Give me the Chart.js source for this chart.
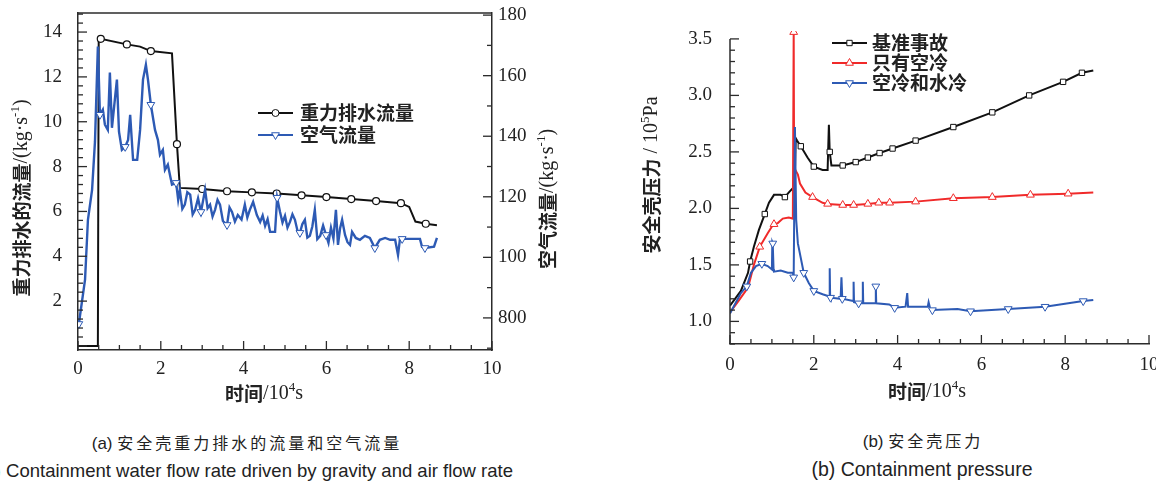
<!DOCTYPE html>
<html>
<head>
<meta charset="utf-8">
<script src="https://cdn.jsdelivr.net/npm/chart.js@4.4.1/dist/chart.umd.min.js"></script>
<style>
  html, body { margin: 0; padding: 0; background: #fff; }
  #wrap { position: relative; width: 1156px; height: 485px; overflow: hidden; background: #fff; }
  canvas { position: absolute; top: 0; }
  #ca { left: 0; }
  #cb { left: 600px; }
  .cap { position: absolute; white-space: nowrap; color: #222; line-height: 20px; }
  .zh { font: 16px 'Noto Sans CJK SC', sans-serif; letter-spacing: 3px; width: 600px; text-align: center; }
  .zh span { font-family: 'Liberation Sans', sans-serif; letter-spacing: 0; font-size: 17px; }
  .en { font-family: 'Liberation Sans', Arial, sans-serif; }
</style>
</head>
<body>
<div id="wrap">
  <canvas id="ca" width="580" height="410"></canvas>
  <canvas id="cb" width="556" height="410"></canvas>
  <div class="cap zh" style="left:-53px; top:430px;"><span>(a) </span>安全壳重力排水的流量和空气流量</div>
  <div class="cap en" style="left:-287px; top:461px; width:800px; text-align:right; font-size:18.5px;">(a) Containment water flow rate driven by gravity and air flow rate</div>
  <div class="cap zh" style="left:623px; top:428px;"><span>(b) </span>安全壳压力</div>
  <div class="cap en" style="left:622px; top:459px; width:600px; text-align:center; font-size:19.5px;">(b) Containment pressure</div>
</div>
<script>
// (a) 重力排水流量 (left axis, kg/s) and 空气流量 (right axis)
const aBlackT = [0, 0.48, 0.50, 0.55, 1.18, 1.50, 1.76, 2.27, 2.39, 2.46, 3.0, 3.6, 4.2, 4.8, 5.4, 6.0, 6.6, 7.2, 7.8, 8.0, 8.15, 8.4, 8.67];
const aBlackV = [0, 0, 13.6, 13.7, 13.45, 13.35, 13.15, 13.05, 9.0, 7.05, 7.0, 6.9, 6.85, 6.8, 6.72, 6.64, 6.55, 6.46, 6.37, 6.2, 5.55, 5.45, 5.38];
const aBlackMarks = [0.55, 1.18, 1.76, 2.39, 3.0, 3.6, 4.2, 4.8, 5.4, 6.0, 6.6, 7.2, 7.8, 8.4];

const aBlueT = [0.02, 0.17, 0.24, 0.34, 0.41, 0.48, 0.53, 0.60, 0.65, 0.72, 0.77, 0.82, 0.89, 0.94, 0.99, 1.06, 1.14, 1.21, 1.26, 1.33,
  1.43, 1.50, 1.57, 1.64, 1.69, 1.76, 1.86, 1.93, 1.98, 2.05, 2.10, 2.17, 2.27, 2.37, 2.42, 2.46, 2.52, 2.58, 2.64, 2.71,
  2.77, 2.83, 2.90, 2.97, 3.07, 3.13, 3.19, 3.25, 3.31, 3.37, 3.43, 3.50, 3.60, 3.66, 3.72, 3.79, 3.86, 3.95, 4.03, 4.09,
  4.15, 4.23, 4.32, 4.40, 4.46, 4.52, 4.58, 4.64, 4.76, 4.81, 4.88, 4.94, 5.0, 5.06, 5.12, 5.18, 5.24, 5.30, 5.36, 5.42,
  5.48, 5.54, 5.60, 5.66, 5.72, 5.78, 5.85, 5.92, 5.99, 6.05, 6.11, 6.17, 6.23, 6.28, 6.33, 6.38, 6.45, 6.51, 6.57, 6.62,
  6.71, 6.81, 6.93, 7.05, 7.17, 7.29, 7.42, 7.54, 7.66, 7.73, 7.78, 7.83, 8.26, 8.31, 8.38, 8.60, 8.67];
const aBlueV = [78.0, 92.6, 112.4, 122.3, 138.2, 169.6, 147.1, 148.8, 143.8, 142.1, 161.0, 142.8, 152.1, 158.7, 141.5, 135.5, 136.5, 138.8, 147.1, 132.2,
  132.2, 142.1, 158.7, 163.6, 158.7, 150.4, 142.1, 138.8, 133.9, 135.5, 128.9, 130.6, 124.0, 124.6, 119.0, 122.3, 116.0, 117.4, 121.5, 120.7,
  114.2, 115.7, 119.5, 115.0, 122.3, 116.2, 117.4, 113.5, 115.7, 119.0, 117.4, 112.0, 110.7, 116.5, 115.0, 111.8, 114.0, 112.5, 117.4, 113.2,
  115.7, 118.3, 114.0, 111.7, 113.8, 110.4, 112.6, 108.4, 108.4, 119.7, 115.0, 111.5, 113.7, 109.8, 111.7, 114.2, 112.4, 108.9, 108.1, 111.0,
  112.4, 106.5, 107.1, 110.2, 115.7, 106.0, 107.1, 110.5, 107.4, 104.8, 109.8, 106.2, 115.7, 104.1, 109.5, 112.4, 107.4, 105.0, 104.1, 108.4,
  106.4, 105.8, 107.1, 106.4, 103.1, 105.8, 106.4, 105.8, 105.8, 100.8, 106.4, 106.1, 106.1, 103.5, 103.1, 103.5, 106.4];
const aBlueMarks = [0.02, 0.53, 1.14, 1.76, 2.37, 2.97, 3.60, 4.81, 5.36, 5.99, 7.17, 7.83, 8.38];

const aXTicks = [0, 2, 4, 6, 8, 10];
const aXLabels = ['0', '2', '4', '6', '8', '10'];
const aYTicks = [2, 4, 6, 8, 10, 12, 14];
const aYLabels = ['2', '4', '6', '8', '10', '12', '14'];
const aY2Ticks = [80, 100, 120, 140, 160, 180];
const aY2Labels = ['800', '100', '120', '140', '160', '180'];

// (b) 安全壳压力
const bBlackT = [0, 0.26, 0.43, 0.48, 0.57, 0.69, 0.83, 0.93, 1.05, 1.21, 1.31, 1.40, 1.50, 1.54, 1.57, 1.60, 1.69, 1.85, 2.00, 2.21,
  2.33, 2.36, 2.38, 2.42, 2.69, 3.00, 3.29, 3.57, 3.88, 4.43, 5.33, 6.26, 7.14, 7.95, 8.40, 8.67];
const bBlackV = [1.14, 1.27, 1.43, 1.53, 1.66, 1.81, 1.95, 2.05, 2.12, 2.12, 2.10, 2.14, 2.18, 2.20, 2.62, 2.60, 2.55, 2.45, 2.37, 2.34,
  2.34, 2.74, 2.50, 2.38, 2.38, 2.41, 2.45, 2.49, 2.53, 2.60, 2.72, 2.85, 3.00, 3.12, 3.20, 3.22];
const bBlackMarks = [0.48, 0.83, 1.31, 1.69, 2.00, 2.38, 2.69, 3.00, 3.29, 3.57, 3.88, 4.43, 5.33, 6.26, 7.14, 7.95, 8.40];

const bRedT = [0, 0.20, 0.43, 0.57, 0.71, 0.90, 1.00, 1.05, 1.14, 1.26, 1.40, 1.50, 1.52, 1.53, 1.62, 1.67, 1.80, 1.97, 2.21, 2.33,
  2.69, 2.95, 3.29, 3.55, 3.81, 4.43, 5.33, 6.26, 7.17, 8.07, 8.67];
const bRedV = [1.08, 1.18, 1.30, 1.50, 1.66, 1.78, 1.84, 1.86, 1.87, 1.91, 1.92, 1.91, 3.56, 2.36, 2.30, 2.22, 2.14, 2.10, 2.05, 2.04,
  2.03, 2.03, 2.04, 2.05, 2.05, 2.06, 2.09, 2.10, 2.12, 2.13, 2.14];
const bRedMarks = [0.71, 1.05, 1.52, 1.97, 2.33, 2.69, 2.95, 3.29, 3.55, 3.81, 4.43, 5.33, 6.26, 7.17, 8.07];

const bBlueT = [0, 0.26, 0.40, 0.50, 0.62, 0.76, 0.90, 1.00, 1.01, 1.02, 1.04, 1.05, 1.21, 1.38, 1.50, 1.52, 1.55, 1.58, 1.62, 1.76,
  1.88, 2.00, 2.21, 2.37, 2.38, 2.39, 2.40, 2.64, 2.66, 2.68, 2.94, 2.95, 2.96, 3.07, 3.16, 3.17, 3.18, 3.47, 3.48, 3.49,
  3.80, 3.93, 4.19, 4.23, 4.25, 4.72, 4.74, 4.78, 4.83, 5.43, 5.74, 6.64, 7.52, 8.43, 8.67];
const bBlueV = [1.07, 1.25, 1.31, 1.43, 1.49, 1.51, 1.49, 1.46, 1.70, 1.69, 1.46, 1.44, 1.45, 1.43, 1.43, 1.39, 2.72, 1.90, 1.69, 1.43,
  1.34, 1.27, 1.24, 1.22, 1.47, 1.22, 1.21, 1.20, 1.39, 1.20, 1.18, 1.35, 1.17, 1.16, 1.16, 1.35, 1.16, 1.16, 1.31, 1.16,
  1.15, 1.12, 1.13, 1.25, 1.13, 1.13, 1.17, 1.11, 1.10, 1.11, 1.09, 1.11, 1.13, 1.18, 1.19];
const bBlueMarks = [0.40, 0.76, 1.02, 1.52, 1.76, 2.00, 2.40, 2.68, 3.07, 3.48, 3.93, 4.83, 5.74, 6.64, 7.52, 8.43];

const bXTicks = [0, 2, 4, 6, 8, 10];
const bXLabels = ['0', '2', '4', '6', '8', '10'];
const bYTicks = [1.0, 1.5, 2.0, 2.5, 3.0, 3.5];
const bYLabels = ['1.0', '1.5', '2.0', '2.5', '3.0', '3.5'];

const AX = '#2b2b2b';
const BLACK = '#111';
const BLUE = '#2d5ab4';
const RED = '#f02a2a';
Chart.defaults.font.family = "'Liberation Serif', serif";
const NUM = { family: "'Liberation Serif', serif", size: 19 };
const CJK = "bold 19px 'Noto Sans CJK SC'";
const LAT = "20px 'Liberation Serif'";
const SUP = "13px 'Liberation Serif'";

const pts = (t, v) => t.map((x, i) => ({ x, y: v[i] }));
const mark = (list, r) => c => (c.raw && list.includes(c.raw.x)) ? r : 0;
const setTicks = vals => s => { s.ticks = vals.map(v => ({ value: v })); };
const fitW = w => s => { s.width = w; s.paddingTop = 0; s.paddingBottom = 0; };
const fitH = h => s => { s.height = h; s.paddingLeft = 0; s.paddingRight = 0; };

function drawParts(ctx, parts, x, y, rot) {
  ctx.save();
  ctx.translate(x, y);
  if (rot) ctx.rotate(rot);
  ctx.textBaseline = 'middle';
  ctx.textAlign = 'left';
  ctx.fillStyle = '#222';
  let w = 0;
  parts.forEach(p => { ctx.font = p[1]; w += ctx.measureText(p[0]).width; });
  let cx = -w / 2;
  parts.forEach(p => {
    ctx.font = p[1];
    ctx.fillText(p[0], cx, p[2] || 0);
    cx += ctx.measureText(p[0]).width;
  });
  ctx.restore();
}

// inward ticks, extra axis lines, titles and legend
const frame = {
  id: 'frame',
  afterDraw(chart, args, o) {
    const ctx = chart.ctx;
    const a = chart.chartArea;
    ctx.save();
    ctx.strokeStyle = AX;
    ctx.lineWidth = 1.3;
    (o.ticks || []).forEach(t => {
      const s = chart.scales[t.id];
      const n = Math.round((t.to - t.from) / t.major * t.sub);
      for (let k = 0; k <= n; k++) {
        const v = t.from + k * t.major / t.sub;
        if (v < s.min - 1e-9 || v > s.max + 1e-9) continue;
        const len = k % t.sub === 0 ? 9 : 5;
        const p = s.getPixelForValue(v);
        ctx.beginPath();
        if (t.side === 'bottom') { ctx.moveTo(p, s.top); ctx.lineTo(p, s.top - len); }
        if (t.side === 'left') { ctx.moveTo(s.right, p); ctx.lineTo(s.right + len, p); }
        if (t.side === 'right') { ctx.moveTo(s.left, p); ctx.lineTo(s.left - len, p); }
        ctx.stroke();
      }
    });
    ctx.lineWidth = 1.5;
    if (o.box) {
      ctx.beginPath();
      ctx.moveTo(a.left, a.top);
      ctx.lineTo(a.right, a.top);
      ctx.stroke();
    }
    if (o.axisLine) {
      const s = chart.scales[o.axisLine.id];
      ctx.beginPath();
      ctx.moveTo(s.right, s.getPixelForValue(o.axisLine.from));
      ctx.lineTo(s.right, s.getPixelForValue(o.axisLine.to));
      ctx.stroke();
    }
    ctx.restore();

    (o.titles || []).forEach(t => drawParts(ctx, t.parts, t.x, t.y, t.rot));

    const lg = o.legend;
    if (lg) {
      lg.rows.forEach(r => {
        ctx.save();
        ctx.strokeStyle = r.color;
        ctx.lineWidth = 2;
        ctx.beginPath();
        ctx.moveTo(lg.x1, r.y);
        ctx.lineTo(lg.x2, r.y);
        ctx.stroke();
        ctx.fillStyle = '#fff';
        ctx.lineWidth = 1;
        Chart.helpers.drawPoint(ctx, { pointStyle: r.style, rotation: r.rot || 0, radius: r.r, borderWidth: 1 }, (lg.x1 + lg.x2) / 2, r.y);
        ctx.fillStyle = '#222';
        ctx.font = CJK;
        ctx.textBaseline = 'middle';
        ctx.textAlign = 'left';
        ctx.fillText(r.label, lg.tx, r.y);
        ctx.restore();
      });
    }
  }
};

const numTicks = (labels, pad) => ({
  font: NUM, color: '#222', padding: pad, autoSkip: false, maxRotation: 0,
  callback: (v, i) => labels[i]
});
const border = { display: true, color: AX, width: 1.5 };

new Chart(document.getElementById('ca'), {
  type: 'line',
  data: {
    datasets: [
      {
        label: '空气流量', data: pts(aBlueT, aBlueV), yAxisID: 'y2',
        borderColor: BLUE, borderWidth: 2.4, tension: 0,
        pointStyle: 'triangle', pointRotation: 180, pointRadius: mark(aBlueMarks, 4.5),
        pointBackgroundColor: '#fff', pointBorderColor: BLUE, pointBorderWidth: 1
      },
      {
        label: '重力排水流量', data: pts(aBlackT, aBlackV), yAxisID: 'y',
        borderColor: BLACK, borderWidth: 2, tension: 0,
        pointStyle: 'circle', pointRadius: mark(aBlackMarks, 3.5),
        pointBackgroundColor: '#fff', pointBorderColor: BLACK, pointBorderWidth: 1.2
      }
    ]
  },
  options: {
    responsive: false, animation: false, events: [],
    devicePixelRatio: 1,
    layout: { padding: { left: 0, right: 0, top: 13, bottom: 0 } },
    plugins: {
      legend: { display: false }, tooltip: { enabled: false },
      frame: {
        box: true,
        ticks: [
          { id: 'x', from: 0, to: 10, major: 2, sub: 4, side: 'bottom' },
          { id: 'y', from: 0, to: 16, major: 2, sub: 5, side: 'left' },
          { id: 'y2', from: 60, to: 180, major: 20, sub: 2, side: 'right' }
        ],
        titles: [
          { parts: [['重力排水的流量', CJK], ['/(kg·s', LAT], ['-1', SUP, -6], [')', LAT]], x: 22, y: 198, rot: -Math.PI / 2 },
          { parts: [['空气流量', CJK], ['/(kg·s', LAT], ['-1', SUP, -6], [')', LAT]], x: 548, y: 199, rot: -Math.PI / 2 },
          { parts: [['时间', CJK], ['/10', LAT], ['4', SUP, -6], ['s', LAT]], x: 264, y: 394 }
        ],
        legend: {
          x1: 258, x2: 293, tx: 300,
          rows: [
            { y: 113, color: BLACK, style: 'circle', r: 3.5, label: '重力排水流量' },
            { y: 135, color: BLUE, style: 'triangle', rot: 180, r: 4.5, label: '空气流量' }
          ]
        }
      }
    },
    scales: {
      x: {
        type: 'linear', min: 0, max: 10,
        afterBuildTicks: setTicks(aXTicks), afterFit: fitH(60),
        ticks: numTicks(aXLabels, 8),
        grid: { display: false, drawTicks: false }, border
      },
      y: {
        type: 'linear', position: 'left', min: -0.18, max: 14.85,
        afterBuildTicks: setTicks(aYTicks), afterFit: fitW(78),
        ticks: numTicks(aYLabels, 16),
        grid: { display: false, drawTicks: false }, border
      },
      y2: {
        type: 'linear', position: 'right', min: 69.4, max: 180.7,
        afterBuildTicks: setTicks(aY2Ticks), afterFit: fitW(88),
        ticks: numTicks(aY2Labels, 6),
        grid: { display: false, drawTicks: false }, border
      }
    }
  },
  plugins: [frame]
});

new Chart(document.getElementById('cb'), {
  type: 'line',
  data: {
    datasets: [
      {
        label: '空冷和水冷', data: pts(bBlueT, bBlueV),
        borderColor: BLUE, borderWidth: 2, tension: 0,
        pointStyle: 'triangle', pointRotation: 180, pointRadius: mark(bBlueMarks, 4.5),
        pointBackgroundColor: '#fff', pointBorderColor: BLUE, pointBorderWidth: 1
      },
      {
        label: '只有空冷', data: pts(bRedT, bRedV),
        borderColor: RED, borderWidth: 2, tension: 0,
        pointStyle: 'triangle', pointRadius: mark(bRedMarks, 4.5),
        pointBackgroundColor: '#fff', pointBorderColor: RED, pointBorderWidth: 1
      },
      {
        label: '基准事故', data: pts(bBlackT, bBlackV),
        borderColor: BLACK, borderWidth: 2, tension: 0,
        pointStyle: 'rect', pointRadius: mark(bBlackMarks, 3.8),
        pointBackgroundColor: '#fff', pointBorderColor: BLACK, pointBorderWidth: 1
      }
    ]
  },
  options: {
    responsive: false, animation: false, events: [],
    devicePixelRatio: 1,
    layout: { padding: { left: 0, right: 7, top: 31, bottom: 0 } },
    plugins: {
      legend: { display: false }, tooltip: { enabled: false },
      frame: {
        axisLine: { id: 'y', from: 0.8, to: 3.5 },
        ticks: [
          { id: 'x', from: 0, to: 10, major: 2, sub: 4, side: 'bottom' },
          { id: 'y', from: 0.5, to: 3.5, major: 0.5, sub: 5, side: 'left' }
        ],
        titles: [
          { parts: [['安全壳压力', CJK], [' / 10', LAT], ['5', SUP, -6], ['Pa', LAT]], x: 52, y: 175, rot: -Math.PI / 2 },
          { parts: [['时间', CJK], ['/10', LAT], ['4', SUP, -6], ['s', LAT]], x: 327, y: 392 }
        ],
        legend: {
          x1: 232, x2: 267, tx: 272,
          rows: [
            { y: 43, color: BLACK, style: 'rect', r: 3.8, label: '基准事故' },
            { y: 63, color: RED, style: 'triangle', r: 4.5, label: '只有空冷' },
            { y: 83, color: BLUE, style: 'triangle', rot: 180, r: 4.5, label: '空冷和水冷' }
          ]
        }
      }
    },
    scales: {
      x: {
        type: 'linear', min: 0, max: 10,
        afterBuildTicks: setTicks(bXTicks), afterFit: fitH(66),
        ticks: numTicks(bXLabels, 10),
        grid: { display: false, drawTicks: false }, border
      },
      y: {
        type: 'linear', position: 'left', min: 0.8, max: 3.57,
        afterBuildTicks: setTicks(bYTicks), afterFit: fitW(130),
        ticks: numTicks(bYLabels, 18),
        grid: { display: false, drawTicks: false }, border: { display: false }
      }
    }
  },
  plugins: [frame]
});
</script>
</body>
</html>
